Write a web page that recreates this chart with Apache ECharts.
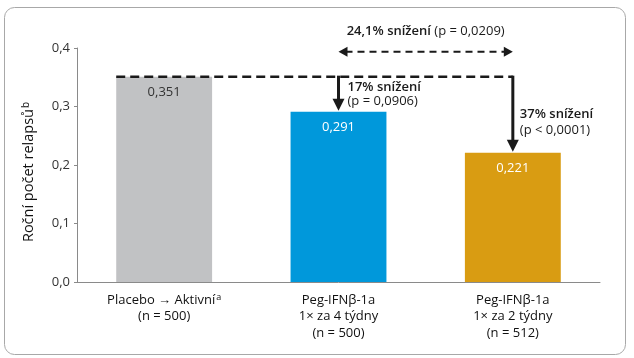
<!DOCTYPE html>
<html><head><meta charset="utf-8">
<script src="https://cdn.jsdelivr.net/npm/echarts@6/dist/echarts.min.js"></script>
<style>html,body{margin:0;padding:0;background:#fff}#c{width:634px;height:358px}</style>
</head><body><div id="c"></div>
<script>
const categories = ['Placebo → Aktivní{sup|a}\n(n = 500)', 'Peg-IFNβ-1a\n1× za 4 týdny\n(n = 500)', 'Peg-IFNβ-1a\n1× za 2 týdny\n(n = 512)'];
const values = [0.351, 0.291, 0.221];
const valueLabels = ['0,351', '0,291', '0,221'];
const colors = ['#c1c2c4', '#0098db', '#d99c12'];
const labelColors = ['#333333', '#ffffff', '#ffffff'];
const yTicks = [0, 0.1, 0.2, 0.3, 0.4];
const yTitle = 'Roční počet relapsů{sup|b}';
const noteTotal = ['24,1% snížení', ' (p = 0,0209)'];
const note4 = ['17% snížení', '(p = 0,0906)'];
const note2 = ['37% snížení', '(p < 0,0001)'];

const FONT = 'Open Sans';
const chart = echarts.init(document.getElementById('c'), null, {renderer: 'canvas'});
const barPct = 0.55;
chart.setOption({
  animation: false,
  grid: {left: 77, right: 34, top: 48, bottom: 76},
  xAxis: {
    type: 'category', data: categories,
    axisLine: {lineStyle: {color: '#8a8a8a', width: 1}},
    axisTick: {show: false},
    axisLabel: {color: '#111', fontFamily: FONT, fontSize: 13, lineHeight: 16.5, margin: 10, interval: 0,
      rich: {sup: {fontFamily: FONT, fontSize: 9, color: '#111', padding: [0, 0, 6, 1]}}}
  },
  yAxis: {
    type: 'value', min: 0, max: 0.4, interval: 0.1,
    name: yTitle, nameLocation: 'middle', nameGap: 40, nameRotate: 90,
    nameTextStyle: {color: '#111', fontFamily: FONT, fontSize: 14.5, padding: [0, 14, 0, 0],
      rich: {sup: {fontFamily: FONT, fontSize: 10, color: '#111', padding: [0, 0, 6, 1]}}},
    axisLine: {show: true, lineStyle: {color: '#8a8a8a', width: 1}},
    axisTick: {show: true, length: 3, lineStyle: {color: '#8a8a8a'}},
    splitLine: {show: false},
    axisLabel: {color: '#333', fontFamily: FONT, fontSize: 13, margin: 7,
      formatter: v => yTicks.includes(+v.toFixed(1)) ? v.toFixed(1).replace('.', ',') : ''}
  },
  series: [{
    type: 'bar', barWidth: (barPct * 100) + '%',
    data: values.map((v, i) => ({value: v, itemStyle: {color: colors[i]},
      label: {color: labelColors[i]}})),
    label: {show: true, position: 'insideTop', distance: 9, fontFamily: FONT, fontSize: 13,
      formatter: p => valueLabels[p.dataIndex]}
  }]
});

const px = (i, v) => chart.convertToPixel({seriesIndex: 0}, [i, v]);
const p0 = px(0, values[0]), p1 = px(1, values[1]), p2 = px(2, values[2]);
const band = p1[0] - p0[0];
const bw = band * barPct;
const yRef = p0[1];
const dark = '#1a1a1a';
const g = [];
g.push({type: 'rect', shape: {x: 4.5, y: 7.5, width: 621, height: 347, r: 10}, style: {fill: 'none', stroke: '#a8a8a8', lineWidth: 1}, z: 0});
g.push({type: 'line', shape: {x1: p0[0] - bw / 2, y1: yRef, x2: p2[0], y2: yRef}, style: {stroke: dark, lineWidth: 2.5, lineDash: [9, 5]}, z: 10});
function downArrow(x, yTop, yTip) {
  g.push({type: 'line', shape: {x1: x, y1: yTop - 1, x2: x, y2: yTip - 10}, style: {stroke: dark, lineWidth: 3}, z: 10});
  g.push({type: 'polygon', shape: {points: [[x - 6, yTip - 12], [x + 6, yTip - 12], [x, yTip]]}, style: {fill: dark}, z: 10});
}
downArrow(p1[0], yRef, p1[1] - 1);
downArrow(p2[0], yRef, p2[1] - 1);
const yD = yRef - 25;
g.push({type: 'line', shape: {x1: p1[0] + 7, y1: yD, x2: p2[0] - 7, y2: yD}, style: {stroke: dark, lineWidth: 2, lineDash: [7, 5]}, z: 10});
g.push({type: 'polygon', shape: {points: [[p1[0], yD], [p1[0] + 9, yD - 5], [p1[0] + 9, yD + 5]]}, style: {fill: dark}, z: 10});
g.push({type: 'polygon', shape: {points: [[p2[0], yD], [p2[0] - 9, yD - 5], [p2[0] - 9, yD + 5]]}, style: {fill: dark}, z: 10});
const rich = {
  b: {fontFamily: FONT, fontSize: 13, fontWeight: 600, fill: '#1a1a1a'},
  r: {fontFamily: FONT, fontSize: 13, fontWeight: 400, fill: '#1a1a1a'}
};
function note(x, y, b, r, align) {
  g.push({type: 'text', x: x, y: y, style: {text: '{b|' + b + '}{r|' + r + '}', rich: rich, align: align, verticalAlign: 'middle'}, z: 11});
}
note((p1[0] + p2[0]) / 2, yD - 20, noteTotal[0], noteTotal[1], 'center');
note(p1[0] + 9, yRef + 11, note4[0], '', 'left');
note(p1[0] + 9, yRef + 25, '', note4[1], 'left');
note(p2[0] + 7, yRef + 38, note2[0], '', 'left');
note(p2[0] + 7, yRef + 54, '', note2[1], 'left');
chart.setOption({graphic: g});
</script></body></html>
